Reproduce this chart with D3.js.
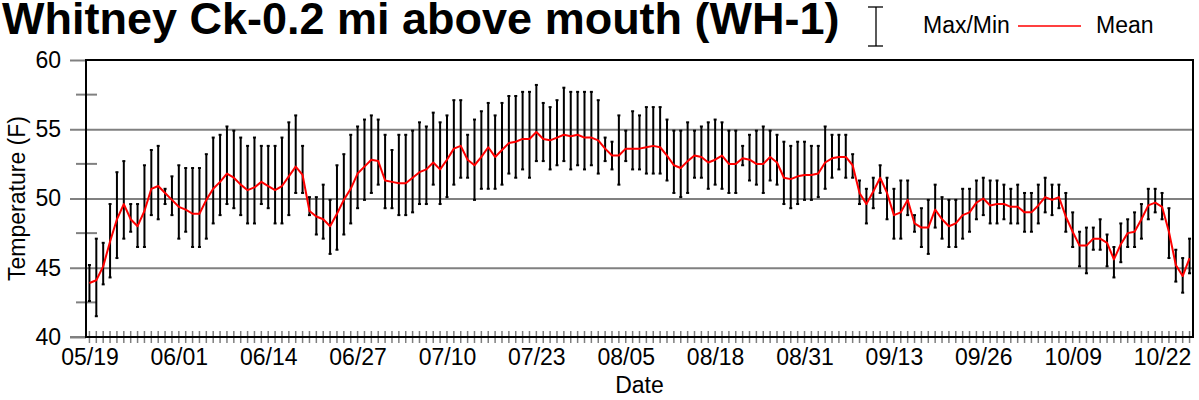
<!DOCTYPE html>
<html>
<head>
<meta charset="utf-8">
<script src="https://cdn.jsdelivr.net/npm/d3@7"></script>
<style>
  body { margin: 0; background: #fff; }
  svg { display: block; font-family: "Liberation Sans", Arial, sans-serif; }
</style>
</head>
<body>
<div id="chart"></div>
<script>
const width = 1199
const height = 400
const margin = { top: 60, right: 6, bottom: 63, left: 86 }
const fontSize = 23

// Data: daily values starting 05/19
const startDay = "05/19"
const maxT = [45.2,47.1,46.8,49.6,51.9,52.7,49.6,49.6,52.4,53.5,53.8,50.7,51.6,52.4,52.2,52.2,52.2,53.2,54.4,54.6,
  55.2,54.9,54.4,53.8,54.4,53.8,53.8,53.8,54.4,55.5,56.0,53.8,50.1,50.1,51.0,49.9,52.4,53.2,54.6,55.2,
  55.7,56.0,55.7,54.6,53.5,54.6,54.6,54.9,55.5,55.2,56.2,55.5,56.0,57.1,57.1,54.6,55.7,56.3,56.9,56.0,
  56.9,57.4,57.4,57.7,57.7,58.2,56.9,56.6,57.1,58.0,57.7,57.7,57.7,57.7,57.1,54.4,54.1,56.0,54.9,56.3,
  56.0,56.6,56.6,56.6,55.7,54.9,54.9,55.5,54.9,55.2,55.5,55.7,55.5,54.9,54.9,53.8,54.6,54.9,55.2,54.9,
  54.6,54.1,53.8,54.1,54.1,53.8,53.8,55.2,54.6,54.6,54.6,53.2,51.3,50.7,51.5,52.4,51.5,50.7,51.3,51.3,
  48.8,49.3,49.9,51.0,50.1,49.9,49.9,50.7,50.7,51.3,51.5,51.3,51.3,51.0,50.7,51.0,50.4,50.4,51.0,51.5,
  51.0,51.0,50.4,49.0,47.6,47.9,47.9,48.5,47.4,46.5,48.2,48.5,49.0,49.6,50.7,50.7,50.4,49.3,46.3,45.7,
  47.1]
const minT = [42.6,41.5,43.8,44.3,45.7,47.1,47.6,46.5,46.5,48.8,48.5,49.6,48.8,47.1,47.6,46.5,46.5,47.1,48.2,48.8,
  49.6,49.3,48.8,48.2,48.2,49.6,49.3,48.2,48.2,48.8,50.4,50.4,48.8,47.4,47.1,46.0,46.3,47.4,48.2,49.3,
  49.9,50.4,51.0,49.3,49.3,48.8,48.8,49.0,49.6,49.6,51.0,49.6,50.1,51.0,51.5,51.5,49.9,50.7,50.7,50.7,
  51.0,51.8,51.5,52.1,51.5,52.7,52.7,52.1,52.4,52.7,52.1,52.4,52.1,52.4,51.8,52.7,52.1,51.0,52.7,52.1,
  52.1,51.8,51.8,51.8,51.3,50.4,50.1,50.4,51.5,51.5,50.7,51.0,50.7,50.4,50.4,52.4,51.3,51.0,50.4,51.3,
  51.0,49.6,49.3,49.6,49.9,49.9,50.1,50.7,51.5,52.1,51.5,51.5,49.6,48.2,49.3,50.4,48.5,47.1,47.1,48.8,
  47.6,46.5,46.0,47.9,47.1,46.5,46.5,47.1,47.6,48.5,48.8,48.2,48.2,48.5,48.2,48.2,47.6,47.6,48.2,49.0,
  48.8,49.3,47.6,46.5,45.1,44.6,46.3,46.3,45.1,44.3,45.4,46.5,46.5,47.1,48.5,49.0,48.5,45.7,44.0,43.2,
  44.6]
const meanT = [43.9,44.1,45.1,46.9,48.5,49.6,48.5,48.0,49.1,50.7,50.9,50.4,49.9,49.4,49.2,48.9,48.9,49.9,50.7,51.2,
  51.8,51.5,51.0,50.6,50.8,51.2,50.9,50.6,50.9,51.6,52.3,51.7,49.1,48.7,48.5,48.0,48.9,49.9,50.7,51.8,
  52.3,52.8,52.7,51.3,51.2,51.1,51.1,51.5,51.9,52.1,52.6,52.1,52.8,53.6,53.8,52.8,52.4,53.0,53.7,53.0,
  53.5,54.0,54.1,54.3,54.3,54.8,54.3,54.2,54.4,54.6,54.5,54.6,54.4,54.4,54.2,53.6,53.1,53.1,53.6,53.6,
  53.6,53.7,53.8,53.7,53.1,52.4,52.2,52.7,53.1,53.0,52.6,52.8,53.1,52.5,52.5,52.9,52.8,52.5,52.5,53.0,
  52.6,51.5,51.4,51.6,51.7,51.7,51.8,52.6,52.9,53.0,53.0,52.4,50.4,49.6,50.5,51.5,50.4,48.8,49.0,49.9,
  48.2,47.9,47.9,49.2,48.5,48.0,48.2,48.8,49.0,49.7,50.0,49.5,49.6,49.6,49.4,49.4,49.0,49.0,49.5,50.1,
  49.9,50.1,48.7,47.6,46.6,46.6,47.1,47.1,46.8,45.6,46.7,47.5,47.6,48.5,49.5,49.7,49.4,47.6,45.2,44.4,
  45.7]
const xTickLabels = ["05/19","06/01","06/14","06/27","07/10","07/23","08/05","08/18","08/31","09/13","09/26","10/09","10/22"]
const yTicks = [40, 45, 50, 55, 60]
const yMinorTicks = [42.5, 47.5, 52.5, 57.5]

const parseDay = d3.utcParse("%Y/%m/%d")
const fmtDay = d3.utcFormat("%m/%d")
const day0 = parseDay("2010/" + startDay)
const data = meanT.map((m, i) => ({
  date: d3.utcDay.offset(day0, i),
  mean: m, max: maxT[i], min: minT[i]
}))

const plotW = width - margin.left - margin.right
const plotH = height - margin.top - margin.bottom

const svg = d3.select("#chart").append("svg")
  .attr("width", width).attr("height", height)

// Escalas
const x = d3.scaleUtc()
  .domain([d3.utcHour.offset(data[0].date, -12), d3.utcHour.offset(data[data.length - 1].date, 12)])
  .range([margin.left, margin.left + plotW])
const y = d3.scaleLinear().domain([40, 60]).range([margin.top + plotH, margin.top])

const grey = "#808080"

// gridlines
svg.append("g")
  .attr("transform", `translate(${margin.left},0)`)
  .call(d3.axisLeft(y).tickValues([45, 50, 55]).tickSize(-plotW).tickFormat(""))
  .call(g => g.select(".domain").remove())
  .call(g => g.selectAll("line").attr("stroke", grey).attr("stroke-width", 2))

// y axis major ticks + labels
svg.append("g")
  .attr("transform", `translate(${margin.left},0)`)
  .call(d3.axisLeft(y).tickValues(yTicks).tickSize(16).tickPadding(9))
  .call(g => g.select(".domain").remove())
  .call(g => g.selectAll("line").attr("stroke", grey).attr("stroke-width", 2))
  .call(g => g.selectAll("text").attr("font-size", fontSize).attr("fill", "#000")
    .attr("font-family", "Liberation Sans, Arial, sans-serif"))

// y minor ticks crossing the axis
svg.append("g").selectAll("line").data(yMinorTicks).join("line")
  .attr("x1", margin.left - 10).attr("x2", margin.left + 11)
  .attr("y1", d => y(d)).attr("y2", d => y(d))
  .attr("stroke", grey).attr("stroke-width", 2)

// x minor ticks (daily)
svg.append("g").selectAll("line").data(data).join("line")
  .attr("x1", d => x(d.date)).attr("x2", d => x(d.date))
  .attr("y1", y(40) - 6).attr("y2", y(40) + 6)
  .attr("stroke", grey).attr("stroke-width", 1.5)

// x axis labels
const labelDates = xTickLabels.map(s => parseDay("2010/" + s))
svg.append("g")
  .attr("transform", `translate(0,${y(40)})`)
  .call(d3.axisBottom(x).tickValues(labelDates).tickSize(0).tickPadding(12).tickFormat(fmtDay))
  .call(g => g.select(".domain").remove())
  .call(g => g.selectAll("text").attr("font-size", fontSize).attr("fill", "#000")
    .attr("font-family", "Liberation Sans, Arial, sans-serif"))

// frame
svg.append("line").attr("x1", margin.left - 16).attr("x2", margin.left)
  .attr("y1", y(40)).attr("y2", y(40)).attr("stroke", grey).attr("stroke-width", 2)
svg.append("rect")
  .attr("x", margin.left).attr("y", margin.top)
  .attr("width", plotW).attr("height", plotH)
  .attr("fill", "none").attr("stroke", "#000").attr("stroke-width", 2)

// error bars
const bars = svg.append("g").attr("stroke", "#000")
bars.selectAll("line.bar").data(data).join("line").attr("class", "bar")
  .attr("x1", d => x(d.date)).attr("x2", d => x(d.date))
  .attr("y1", d => y(d.max)).attr("y2", d => y(d.min))
  .attr("stroke-width", 2)
bars.selectAll("line.capTop").data(data).join("line").attr("class", "capTop")
  .attr("x1", d => x(d.date) - 1.5).attr("x2", d => x(d.date) + 1.5)
  .attr("y1", d => y(d.max)).attr("y2", d => y(d.max))
  .attr("stroke-width", 2)
bars.selectAll("line.capBot").data(data).join("line").attr("class", "capBot")
  .attr("x1", d => x(d.date) - 1.5).attr("x2", d => x(d.date) + 1.5)
  .attr("y1", d => y(d.min)).attr("y2", d => y(d.min))
  .attr("stroke-width", 2)

// mean line
const line = d3.line().x(d => x(d.date)).y(d => y(d.mean))
svg.append("path").datum(data)
  .attr("d", line)
  .attr("fill", "none").attr("stroke", "#ff0000").attr("stroke-width", 2)
  .attr("stroke-linejoin", "round")

// title
svg.append("text").attr("x", 2).attr("y", 34)
  .attr("font-size", 45).attr("font-weight", "bold")
  .text("Whitney Ck-0.2 mi above mouth (WH-1)")

// axis titles
svg.append("text")
  .attr("transform", `translate(25,${(margin.top + margin.top + plotH) / 2}) rotate(-90)`)
  .attr("text-anchor", "middle").attr("font-size", fontSize)
  .text("Temperature (F)")
svg.append("text")
  .attr("x", margin.left + plotW / 2).attr("y", 393)
  .attr("text-anchor", "middle").attr("font-size", fontSize)
  .text("Date")

// legend
const legend = svg.append("g")
legend.append("line").attr("x1", 876).attr("x2", 876).attr("y1", 7).attr("y2", 46)
  .attr("stroke", "#000").attr("stroke-width", 1.3)
legend.selectAll("line.cap").data([7, 46]).join("line").attr("class", "cap")
  .attr("x1", 868).attr("x2", 883).attr("y1", d => d).attr("y2", d => d)
  .attr("stroke", "#000").attr("stroke-width", 1.3)
legend.append("text").attr("x", 923).attr("y", 33).attr("font-size", fontSize).text("Max/Min")
legend.append("line").attr("x1", 1018).attr("x2", 1081).attr("y1", 26).attr("y2", 26)
  .attr("stroke", "#ff0000").attr("stroke-width", 1.5)
legend.append("text").attr("x", 1096).attr("y", 33).attr("font-size", fontSize).text("Mean")
</script>
</body>
</html>
